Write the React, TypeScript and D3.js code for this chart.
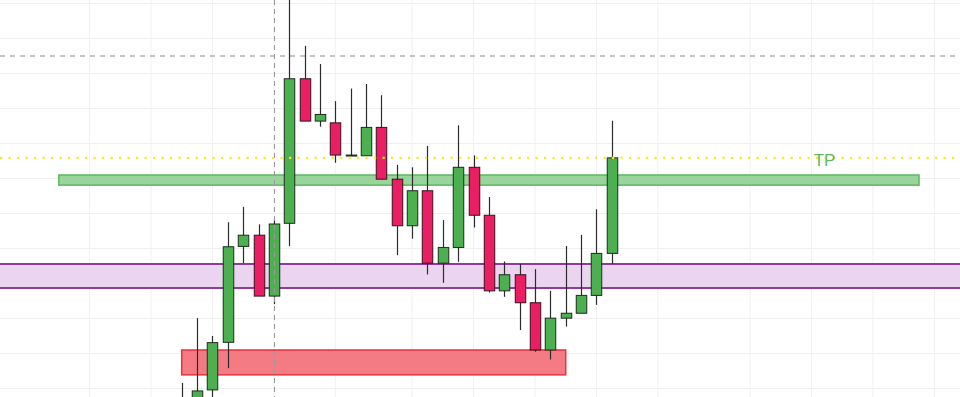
import React from "react";
import * as d3 from "d3";

// Candle data (index, open, high, low, close) – arbitrary price units
const opens = [27.3, 25.3, 29.6, 43.2, 70.6, 73.8, 56.4, 77.2, 118.5, 106.4, 105.9, 96.7, 96.5, 104.6, 89.8, 76.5, 86.5, 65.8, 70.3, 93.2, 79.5, 57.9, 62.5, 54.5, 41.0, 50.1, 51.5, 56.6, 68.6];
const highs = [31.6, 50.1, 45.0, 77.5, 81.9, 76.9, 78.4, 143.3, 127.9, 122.7, 112.1, 115.7, 117.0, 113.8, 93.9, 93.2, 99.3, 78.1, 105.2, 96.6, 84.7, 66.3, 65.6, 64.1, 57.9, 70.7, 73.9, 81.2, 106.5];
const lows = [23.9, 23.9, 26.1, 35.8, 65.8, 56.4, 54.1, 70.7, 106.4, 104.8, 94.5, 96.5, 96.5, 89.8, 68.1, 72.8, 62.6, 60.2, 66.2, 76.0, 57.4, 56.2, 46.7, 40.5, 38.3, 47.7, 51.5, 53.9, 65.6];
const closes = [25.3, 29.3, 43.1, 70.5, 73.8, 56.4, 77.0, 118.5, 106.4, 108.3, 96.7, 96.7, 104.6, 89.8, 76.5, 86.5, 65.8, 70.3, 93.2, 79.5, 57.9, 62.5, 54.5, 41.0, 50.1, 51.5, 56.6, 68.6, 95.9];

// Grid ticks
const priceTicks = [30, 40, 50, 60, 70, 80, 90, 100, 110, 120, 130, 140];
const timeTicks = [-6, -2, 2, 6, 10, 15, 19, 23, 27, 31, 37, 41, 45, 49];

// Drawings
const crosshairIndex = 6;
const dashedLevel = 125.0;
const tpLevel = 95.9;
const tpLabel = "TP";
const tpLabelIndex = 41.85;
const greenZone = { x0: -8, x1: 48, top: 91.0, bottom: 88.1 };
const purpleZone = { top: 65.6, bottom: 58.7 };
const redZone = { x0: 0, x1: 25, top: 41.0, bottom: 33.9 };

const W = 960;
const H = 397;

export default function App() {
  const x = d3.scaleLinear().domain([0, 28]).range([181.7, 611.8]);
  const y = d3.scaleLinear().domain([27.57, 141]).range([H, 0]);
  const bodyW = 10.5;

  const candles = opens.map((o, i) => ({ i, o, h: highs[i], l: lows[i], c: closes[i] }));

  return (
    <svg
      width={W}
      height={H}
      style={{ position: "absolute", left: 0, top: 0, display: "block", background: "#fff" }}
    >
      {/* grid */}
      {priceTicks.map((p) => (
        <line key={"h" + p} x1={0} x2={W} y1={y(p)} y2={y(p)} stroke="#f0f0f0" strokeWidth={1} />
      ))}
      {timeTicks.map((t) => (
        <line key={"v" + t} x1={x(t)} x2={x(t)} y1={0} y2={H} stroke="#f0f0f0" strokeWidth={1} />
      ))}

      {/* purple zone */}
      <rect x={0} width={W} y={y(purpleZone.top)} height={y(purpleZone.bottom) - y(purpleZone.top)} fill="#ead4ef" />
      <line x1={0} x2={W} y1={y(purpleZone.top)} y2={y(purpleZone.top)} stroke="#8d3b9f" strokeWidth={2} />
      <line x1={0} x2={W} y1={y(purpleZone.bottom)} y2={y(purpleZone.bottom)} stroke="#8d3b9f" strokeWidth={2} />

      {/* green zone */}
      <rect
        x={x(greenZone.x0)}
        width={x(greenZone.x1) - x(greenZone.x0)}
        y={y(greenZone.top)}
        height={y(greenZone.bottom) - y(greenZone.top)}
        fill="#99d59a"
        stroke="#5cb85f"
        strokeWidth={1.5}
      />

      {/* red zone */}
      <rect
        x={x(redZone.x0)}
        width={x(redZone.x1) - x(redZone.x0)}
        y={y(redZone.top)}
        height={y(redZone.bottom) - y(redZone.top)}
        fill="#f47a84"
        stroke="#e8323f"
        strokeWidth={1.5}
      />

      {/* gray dashed level */}
      <line x1={0} x2={W} y1={y(dashedLevel)} y2={y(dashedLevel)} stroke="#b3b3b3" strokeWidth={1.5} strokeDasharray="5 5" />

      {/* candles */}
      {candles.map((d) => {
        const up = d.c >= d.o;
        const top = y(Math.max(d.o, d.c));
        const bot = y(Math.min(d.o, d.c));
        const cx = Math.round(x(d.i)) + 0.5;
        return (
          <g key={d.i}>
            <line x1={cx} x2={cx} y1={y(d.h)} y2={y(d.l)} stroke="#2b2b2b" strokeWidth={1.2} />
            <rect
              x={cx - bodyW / 2}
              width={bodyW}
              y={top}
              height={Math.max(1, bot - top)}
              fill={up ? "#4caf50" : "#e91e63"}
              stroke={up ? "#1c2e1c" : "#3a1020"}
              strokeWidth={1}
            />
          </g>
        );
      })}

      {/* crosshair */}
      <line
        x1={Math.round(x(crosshairIndex)) + 0.5}
        x2={Math.round(x(crosshairIndex)) + 0.5}
        y1={0}
        y2={H}
        stroke="#9a9a9a"
        strokeWidth={1}
        strokeDasharray="5 4"
      />

      {/* TP dotted line */}
      <line x1={0} x2={W} y1={y(tpLevel)} y2={y(tpLevel)} stroke="#f4e830" strokeWidth={2.2} strokeDasharray="2.2 6.3" />
      <text
        x={x(tpLabelIndex)}
        y={y(tpLevel) + 8.5}
        textAnchor="middle"
        fontFamily="Liberation Sans, Arial, sans-serif"
        fontSize={17}
        fill="#5fb862"
      >
        {tpLabel}
      </text>
    </svg>
  );
}
